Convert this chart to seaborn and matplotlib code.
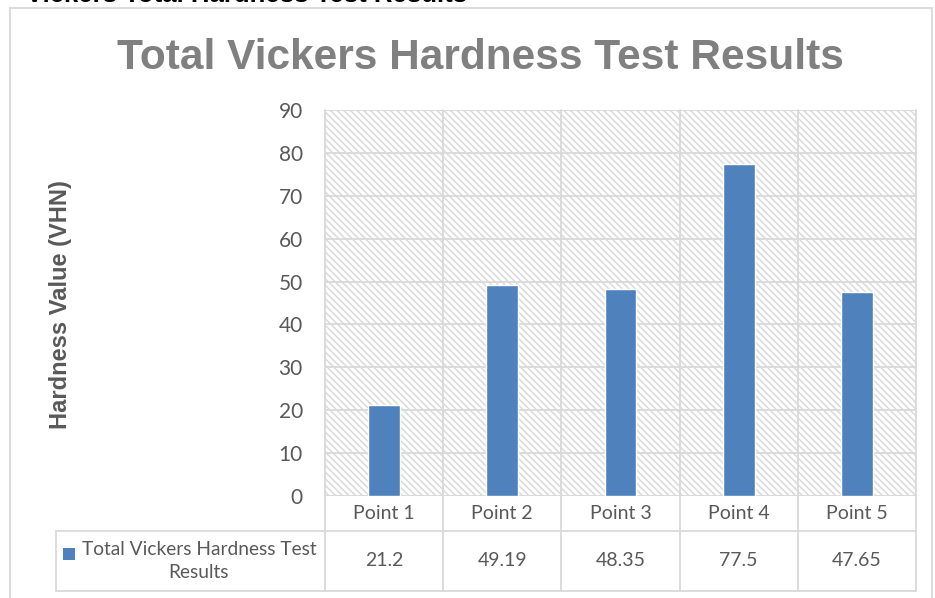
import matplotlib
matplotlib.use('Agg')
import matplotlib.pyplot as plt
from matplotlib.patches import Rectangle
import pandas as pd
import seaborn as sns

# chart data
points = ['Point 1', 'Point 2', 'Point 3', 'Point 4', 'Point 5']
hardness = [21.2, 49.19, 48.35, 77.5, 47.65]
value_labels = ['21.2', '49.19', '48.35', '77.5', '47.65']
series_name = 'Total Vickers Hardness Test Results'
y_ticks = [0, 10, 20, 30, 40, 50, 60, 70, 80, 90]

W, H = 935, 598
BLUE = '#4F81BD'
GRID = '#d9d9d9'
TXT = '#595959'

sns.set_style('white')
plt.rcParams['font.family'] = ['Lato', 'DejaVu Sans']
plt.rcParams['hatch.linewidth'] = 1.2

df = pd.DataFrame({'Point': points, 'Hardness': hardness})

fig = plt.figure(figsize=(W / 100, H / 100), dpi=100)

def fx(px):
    return px / W

def fy(py):
    return 1 - py / H

# plot area in pixels
left, right, top, bottom = 325, 916, 110, 496
ax = fig.add_axes([fx(left), fy(bottom), fx(right) - fx(left), fy(top) - fy(bottom)])

# hatched background of the plot area
ax.add_patch(Rectangle((0, 0), 1, 1, transform=ax.transAxes, facecolor='white',
                       edgecolor='#dcdcdc', hatch='\\\\\\\\\\', linewidth=0, zorder=0))

sns.barplot(data=df, x='Point', y='Hardness', color=BLUE, width=0.27,
            saturation=1, ax=ax, zorder=3)

ax.set_xlim(-0.5, len(points) - 0.5)
ax.set_ylim(0, 90)
ax.set_yticks(y_ticks)
ax.set_yticklabels([str(t) for t in y_ticks], fontsize=15, color=TXT)
ax.set_xticks([])
ax.set_xlabel('')
ax.set_ylabel('')
ax.tick_params(axis='y', length=0, pad=16)
for s in ax.spines.values():
    s.set_visible(False)
for t in y_ticks:
    ax.axhline(t, color=GRID, lw=1.3, zorder=1)

# data table below the plot
ah = bottom - top
row1 = (bottom - 531) / ah
row2 = (bottom - 591) / ah
tr = ax.get_xaxis_transform()
for b in range(len(points) + 1):
    xb = b - 0.5
    ax.plot([xb, xb], [1, row2], transform=tr, color=GRID, lw=1.3,
            clip_on=False, zorder=1)
ax.plot([-0.5, len(points) - 0.5], [row1, row1], transform=tr, color=GRID,
        lw=1.3, clip_on=False)
ax.plot([-0.5, len(points) - 0.5], [row2, row2], transform=tr, color=GRID,
        lw=1.3, clip_on=False)
for i, (p, v) in enumerate(zip(points, value_labels)):
    ax.text(i, (0 + row1) / 2, p, transform=tr, ha='center', va='center',
            fontsize=14, color=TXT)
    ax.text(i, (row1 + row2) / 2, v, transform=tr, ha='center', va='center',
            fontsize=14, color=TXT)

# legend cell of the table
fig.add_artist(plt.Line2D([fx(56), fx(left)], [fy(531), fy(531)], color=GRID, lw=1.3))
fig.add_artist(plt.Line2D([fx(56), fx(left)], [fy(591), fy(591)], color=GRID, lw=1.3))
fig.add_artist(plt.Line2D([fx(56), fx(56)], [fy(531), fy(591)], color=GRID, lw=1.3))
fig.add_artist(Rectangle((fx(63), fy(560)), fx(12), 12 / H, facecolor=BLUE,
                         edgecolor='none'))
fig.text(fx(199), fy(561), 'Total Vickers Hardness Test\nResults', ha='center',
         va='center', fontsize=13.8, color=TXT, linespacing=1.45)

# chart border
fig.add_artist(Rectangle((fx(10), fy(620)), fx(922), 612 / H, facecolor='none',
                         edgecolor=GRID, lw=1.3))

# titles
fig.text(fx(480), fy(58), series_name, ha='center', va='center', fontsize=30.5,
         fontweight='bold', color='#808080', family='Liberation Sans')
fig.text(fx(61), fy(305), 'Hardness Value (VHN)', ha='center', va='center',
         rotation=90, fontsize=17, fontweight='bold', color=TXT,
         family='Liberation Sans')
fig.text(fx(26), fy(1.8), 'Vickers Total Hardness Test Results', ha='left',
         va='baseline', fontsize=18.5, fontweight='bold', color='black',
         family='Liberation Sans')

fig.savefig('out.png', dpi=100)
